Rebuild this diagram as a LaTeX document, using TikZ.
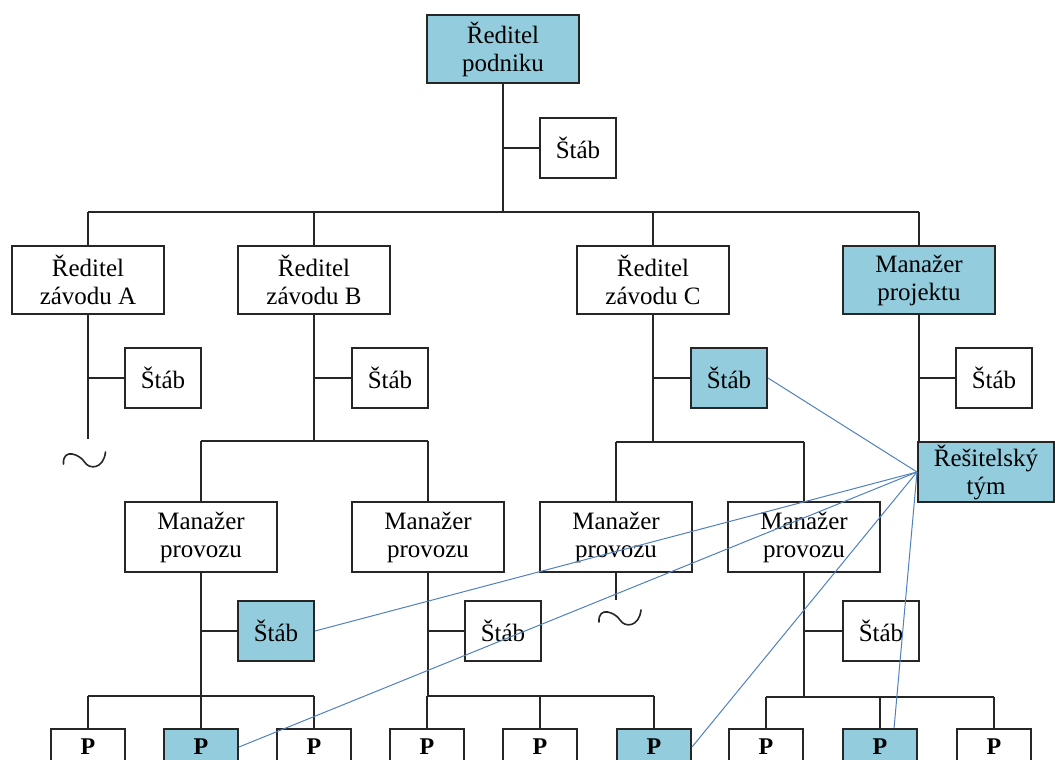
\documentclass[tikz,border=0pt]{standalone}
\usepackage{fontspec}
\setmainfont{Liberation Serif}
\usetikzlibrary{calc}
\definecolor{teamfill}{HTML}{93CDDD}
\definecolor{linkblue}{HTML}{4F81BD}
\definecolor{ink}{HTML}{262626}

\begin{document}
\begin{tikzpicture}[x=1pt,y=-1pt,
  unit/.style={draw=ink, line width=2pt, fill=white, inner sep=0pt, align=center,
               font=\fontsize{25}{28}\selectfont, text=black},
  hl/.style={fill=teamfill},
  head/.style={minimum width=152pt, minimum height=68pt},
  mgr/.style={minimum width=152pt, minimum height=70pt},
  staff/.style={minimum width=76pt, minimum height=60pt},
  ptask/.style={minimum width=74pt, minimum height=36pt, font=\fontsize{24}{27}\selectfont\bfseries},
  tie/.style={draw=ink, line width=2pt},
  link/.style={draw=linkblue, line width=1pt},
  squiggle/.pic={\draw[ink, line width=1.6pt, line cap=round]
     (-21,5) .. controls (-22,-12) and (-4,-4) .. (0,3)
             .. controls (5,11) and (19,10) .. (21,-7);}
]
\useasboundingbox (0,0) rectangle (1055,760);

% ---- top level
\node[unit,head,hl] (ceo) at (503,49) {Ředitel\\podniku};
\node[unit,staff] (s0) at (578,148) {Štáb};

% ---- plant directors and project manager
\node[unit,head] (rA) at (88,280)  {Ředitel\\závodu A};
\node[unit,head] (rB) at (314,280) {Ředitel\\závodu B};
\node[unit,head] (rC) at (653,280) {Ředitel\\závodu C};
\node[unit,head,hl] (mp) at (919,280) {Manažer\\projektu};

\node[unit,staff] (sA) at (163,378) {Štáb};
\node[unit,staff] (sB) at (390,378) {Štáb};
\node[unit,staff,hl] (sC) at (729,378) {Štáb};
\node[unit,staff] (sP) at (994,378) {Štáb};

\node[unit,hl,minimum width=136pt,minimum height=60pt] (tym) at (986,472) {Řešitelský\\tým};

% ---- operations managers
\node[unit,mgr] (m1) at (201,537) {Manažer\\provozu};
\node[unit,mgr] (m2) at (428,537) {Manažer\\provozu};
\node[unit,mgr] (m3) at (616,537) {Manažer\\provozu};
\node[unit,mgr] (m4) at (804,537) {Manažer\\provozu};

\node[unit,staff,hl] (t1) at (276,631) {Štáb};
\node[unit,staff]    (t2) at (503,631) {Štáb};
\node[unit,staff]    (t4) at (881,631) {Štáb};

% ---- workers
\node[unit,ptask]    (p1) at (88,747)  {P};
\node[unit,ptask,hl] (p2) at (201,747) {P};
\node[unit,ptask]    (p3) at (314,747) {P};
\node[unit,ptask]    (p4) at (427,747) {P};
\node[unit,ptask]    (p5) at (540,747) {P};
\node[unit,ptask,hl] (p6) at (654,747) {P};
\node[unit,ptask]    (p7) at (766,747) {P};
\node[unit,ptask,hl] (p8) at (880,747) {P};
\node[unit,ptask]    (p9) at (994,747) {P};

% ---- line connections
\coordinate (bus0) at (503,212);
\draw[tie] (ceo.south) -- (bus0);
\draw[tie] (ceo.south |- s0.west) -- (s0.west);
\draw[tie] (rA.north |- bus0) -- (mp.north |- bus0);
\foreach \n in {rA,rB,rC,mp} \draw[tie] (\n.north |- bus0) -- (\n.north);

% plant A (continues below)
\coordinate (endA) at (88,439);
\draw[tie] (rA.south) -- (endA);
\draw[tie] (rA.south |- sA.west) -- (sA.west);
\pic at (84.5,459) {squiggle};

% plant B
\coordinate (busB) at (314,441);
\draw[tie] (rB.south) -- (busB);
\draw[tie] (rB.south |- sB.west) -- (sB.west);
\draw[tie] (m1.north |- busB) -- (m2.north |- busB);
\foreach \n in {m1,m2} \draw[tie] (\n.north |- busB) -- (\n.north);

% plant C
\coordinate (busC) at (653,442);
\draw[tie] (rC.south) -- (busC);
\draw[tie] (rC.south |- sC.west) -- (sC.west);
\draw[tie] (m3.north |- busC) -- (m4.north |- busC);
\foreach \n in {m3,m4} \draw[tie] (\n.north |- busC) -- (\n.north);

% project manager
\draw[tie] (mp.south) -- (mp.south |- tym.north);
\draw[tie] (mp.south |- sP.west) -- (sP.west);

% operations under plant B
\coordinate (busM1) at (201,696);
\draw[tie] (m1.south) -- (busM1);
\draw[tie] (m1.south |- t1.west) -- (t1.west);
\draw[tie] (p1.north |- busM1) -- (p3.north |- busM1);
\foreach \n in {p1,p2,p3} \draw[tie] (\n.north |- busM1) -- (\n.north);

\coordinate (busM2) at (428,696);
\draw[tie] (m2.south) -- (busM2);
\draw[tie] (m2.south |- t2.west) -- (t2.west);
\draw[tie] (p4.north |- busM2) -- (p6.north |- busM2);
\foreach \n in {p4,p5,p6} \draw[tie] (\n.north |- busM2) -- (\n.north);

% operations under plant C
\coordinate (endM3) at (616,600);
\draw[tie] (m3.south) -- (endM3);
\pic at (620,617) {squiggle};

\coordinate (busM4) at (804,697);
\draw[tie] (m4.south) -- (busM4);
\draw[tie] (m4.south |- t4.west) -- (t4.west);
\draw[tie] (p7.north |- busM4) -- (p9.north |- busM4);
\foreach \n in {p7,p8,p9} \draw[tie] (\n.north |- busM4) -- (\n.north);

% ---- problem-solving team links
\draw[link] (sC.east) -- (tym.west);
\draw[link] (t1.east) -- (tym.west);
\draw[link] (p2.east) -- (tym.west);
\draw[link] (p6.east) -- (tym.west);
\draw[link] ($(p8.north)!0.37!(p8.north east)$) -- (tym.west);
\end{tikzpicture}
\end{document}
